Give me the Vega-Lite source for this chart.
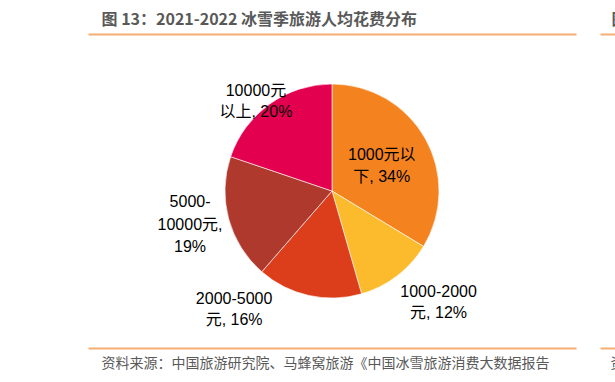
{
  "$schema": "https://vega.github.io/schema/vega-lite/v6.json",
  "width": 316,
  "height": 314,
  "autosize": {"type": "none"},
  "padding": {"left": 174, "top": 34, "right": 125, "bottom": 34},
  "background": "#ffffff",
  "config": {"view": {"stroke": null}},
  "data": {
    "values": [
      {"idx": 1, "cat": "1000元以下", "value": 34, "label": "1000元以\n下, 34%"},
      {"idx": 2, "cat": "1000-2000元", "value": 12, "label": "1000-2000\n元, 12%"},
      {"idx": 3, "cat": "2000-5000元", "value": 16, "label": "2000-5000\n元, 16%"},
      {"idx": 4, "cat": "5000-10000元", "value": 19, "label": "5000-\n10000元,\n19%"},
      {"idx": 5, "cat": "10000元以上", "value": 20, "label": "10000元\n以上, 20%"}
    ]
  },
  "resolve": {"scale": {"x": "independent"}, "axis": {"x": "independent"}},
  "layer": [
    {
      "mark": {"type": "arc", "outerRadius": 107, "stroke": "#ffffff", "strokeWidth": 0.6},
      "encoding": {
        "theta": {"field": "value", "type": "quantitative", "stack": true},
        "order": {"field": "idx", "type": "quantitative"},
        "color": {
          "field": "cat", "type": "nominal", "legend": null,
          "scale": {
            "domain": ["1000元以下", "1000-2000元", "2000-5000元", "5000-10000元", "10000元以上"],
            "range": ["#F4831F", "#FBBB2D", "#DC3D1B", "#B0392D", "#E3004F"]
          }
        }
      }
    },
    {
      "mark": {"type": "text", "radius": 56, "dx": 1, "dy": -8.25, "fontSize": 16, "font": "Liberation Sans, Noto Sans CJK SC", "color": "#000000", "lineBreak": "\n", "lineHeight": 21.5},
      "encoding": {
        "theta": {"field": "value", "type": "quantitative", "stack": true},
        "order": {"field": "idx", "type": "quantitative"},
        "detail": {"field": "cat", "type": "nominal"},
        "text": {"condition": {"test": "datum.idx === 1", "field": "label", "type": "nominal"}, "value": ""}
      }
    },
    {
      "mark": {"type": "text", "radius": 150, "dx": 15.4, "dy": -18.45, "fontSize": 16, "font": "Liberation Sans, Noto Sans CJK SC", "color": "#000000", "lineBreak": "\n", "lineHeight": 21.5},
      "encoding": {
        "theta": {"field": "value", "type": "quantitative", "stack": true},
        "order": {"field": "idx", "type": "quantitative"},
        "detail": {"field": "cat", "type": "nominal"},
        "text": {"condition": {"test": "datum.idx === 2", "field": "label", "type": "nominal"}, "value": ""}
      }
    },
    {
      "mark": {"type": "text", "radius": 150, "dx": -65.5, "dy": -38.65, "fontSize": 16, "font": "Liberation Sans, Noto Sans CJK SC", "color": "#000000", "lineBreak": "\n", "lineHeight": 21.5},
      "encoding": {
        "theta": {"field": "value", "type": "quantitative", "stack": true},
        "order": {"field": "idx", "type": "quantitative"},
        "detail": {"field": "cat", "type": "nominal"},
        "text": {"condition": {"test": "datum.idx === 3", "field": "label", "type": "nominal"}, "value": ""}
      }
    },
    {
      "mark": {"type": "text", "radius": 145, "dx": -2, "dy": -26.8, "fontSize": 16, "font": "Liberation Sans, Noto Sans CJK SC", "color": "#000000", "lineBreak": "\n", "lineHeight": 22.5},
      "encoding": {
        "theta": {"field": "value", "type": "quantitative", "stack": true},
        "order": {"field": "idx", "type": "quantitative"},
        "detail": {"field": "cat", "type": "nominal"},
        "text": {"condition": {"test": "datum.idx === 4", "field": "label", "type": "nominal"}, "value": ""}
      }
    },
    {
      "mark": {"type": "text", "radius": 112, "dx": -10.8, "dy": -9.15, "fontSize": 16, "font": "Liberation Sans, Noto Sans CJK SC", "color": "#000000", "lineBreak": "\n", "lineHeight": 21.5},
      "encoding": {
        "theta": {"field": "value", "type": "quantitative", "stack": true},
        "order": {"field": "idx", "type": "quantitative"},
        "detail": {"field": "cat", "type": "nominal"},
        "text": {"condition": {"test": "datum.idx === 5", "field": "label", "type": "nominal"}, "value": ""}
      }
    },
    {
      "data": {"values": [{"a": 0}]},
      "mark": {"type": "point", "opacity": 0},
      "encoding": {
        "x": {
          "datum": 0, "type": "quantitative",
          "scale": {"domain": [0, 1], "range": [-86, 402]},
          "axis": {
            "orient": "top", "domain": true, "domainColor": "#F6AE74", "domainWidth": 2,
            "ticks": false, "labels": false, "grid": false,
            "title": "图 13：2021-2022 冰雪季旅游人均花费分布",
            "titleX": -73, "titleY": -15, "titleAlign": "left", "titleBaseline": "middle", "titleAngle": 0,
            "titleFont": "Noto Sans CJK SC", "titleFontSize": 16, "titleFontWeight": "bold", "titleColor": "#595959"
          }
        }
      }
    },
    {
      "data": {"values": [{"a": 0}]},
      "mark": {"type": "point", "opacity": 0},
      "encoding": {
        "x": {
          "datum": 0, "type": "quantitative",
          "scale": {"domain": [0, 1], "range": [-86, 402]},
          "axis": {
            "orient": "bottom", "domain": true, "domainColor": "#F6AE74", "domainWidth": 2,
            "ticks": false, "labels": false, "grid": false,
            "title": "资料来源：中国旅游研究院、马蜂窝旅游《中国冰雪旅游消费大数据报告",
            "titleX": -73, "titleY": 15, "titleAlign": "left", "titleBaseline": "middle", "titleAngle": 0,
            "titleFont": "Noto Sans CJK SC", "titleFontSize": 14, "titleFontWeight": "normal", "titleColor": "#595959"
          }
        }
      }
    },
    {
      "data": {"values": [{"a": 0}]},
      "mark": {"type": "point", "opacity": 0},
      "encoding": {
        "x": {
          "datum": 0, "type": "quantitative",
          "scale": {"domain": [0, 1], "range": [426, 441]},
          "axis": {
            "orient": "top", "domain": true, "domainColor": "#F6AE74", "domainWidth": 2,
            "ticks": false, "labels": false, "grid": false,
            "title": "图",
            "titleX": 437, "titleY": -15, "titleAlign": "left", "titleBaseline": "middle", "titleAngle": 0,
            "titleFont": "Noto Sans CJK SC", "titleFontSize": 16, "titleFontWeight": "bold", "titleColor": "#595959"
          }
        }
      }
    },
    {
      "data": {"values": [{"a": 0}]},
      "mark": {"type": "point", "opacity": 0},
      "encoding": {
        "x": {
          "datum": 0, "type": "quantitative",
          "scale": {"domain": [0, 1], "range": [426, 441]},
          "axis": {
            "orient": "bottom", "domain": true, "domainColor": "#F6AE74", "domainWidth": 2,
            "ticks": false, "labels": false, "grid": false,
            "title": "资",
            "titleX": 436, "titleY": 15, "titleAlign": "left", "titleBaseline": "middle", "titleAngle": 0,
            "titleFont": "Noto Sans CJK SC", "titleFontSize": 14, "titleFontWeight": "normal", "titleColor": "#595959"
          }
        }
      }
    }
  ]
}
